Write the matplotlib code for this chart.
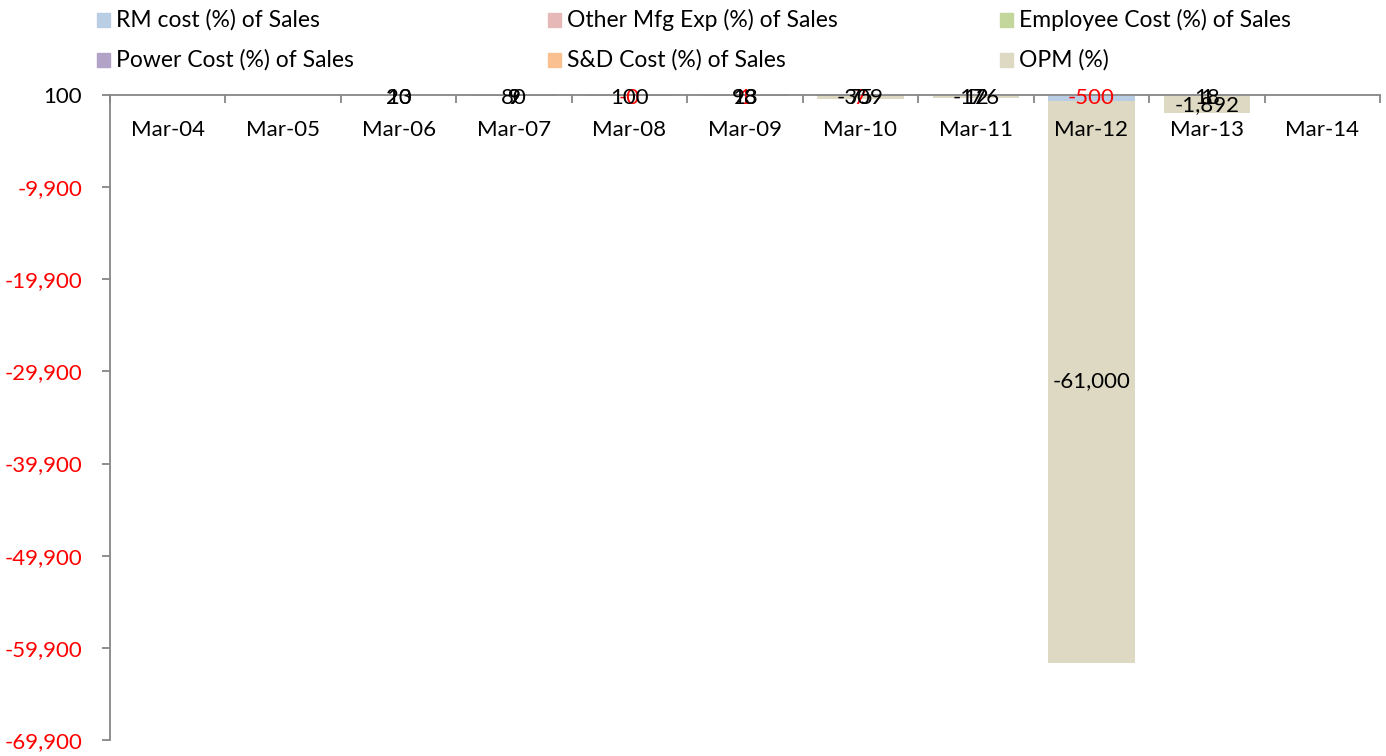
import numpy as np
import matplotlib
matplotlib.use("Agg")
import matplotlib.pyplot as plt
from matplotlib.patches import Rectangle
import matplotlib.transforms as mtransforms

nan = np.nan
categories = ["Mar-04", "Mar-05", "Mar-06", "Mar-07", "Mar-08", "Mar-09",
              "Mar-10", "Mar-11", "Mar-12", "Mar-13", "Mar-14"]
series_names = ["RM cost (%) of Sales", "Other Mfg Exp (%) of Sales",
                "Employee Cost (%) of Sales", "Power Cost (%) of Sales",
                "S&D Cost (%) of Sales", "OPM (%)"]
rm_cost = [nan, nan, nan, nan, -0.3, 1, 7, nan, -500, nan, nan]
other_mfg = [nan, nan, 20, 80, 100, 98, 75, 12, nan, 18, nan]
employee = [nan, nan, 13, 9, nan, 13, nan, 7, nan, 1, nan]
power = [nan, nan, nan, 9, nan, nan, nan, nan, nan, nan, nan]
sd_cost = [nan] * 11
opm = [nan, nan, nan, nan, nan, nan, -309, -176, -61000, -1892, nan]
series_values = [rm_cost, other_mfg, employee, power, sd_cost, opm]
colors = ["#B9CDE5", "#E6B9B8", "#C3D69B", "#B3A2C7", "#FAC090", "#DDD9C3"]
label_colors = ["#FF0000", "black", "black", "black", "black", "black"]
yticks = [100, -9900, -19900, -29900, -39900, -49900, -59900, -69900]

FONT = "Lato"
FS = 16
plt.rcParams["font.family"] = [FONT, "DejaVu Sans"]

W, H = 1386, 756
fig = plt.figure(figsize=(W / 100, H / 100), dpi=100)
ax = fig.add_axes([110 / W, 1 - 740 / H, (1380 - 110) / W, (740 - 95) / H])
ymin, ymax = -69900, 100
ax.set_xlim(-0.5, len(categories) - 0.5)
ax.set_ylim(ymin, ymax)

x = np.arange(len(categories))
pos_base = np.zeros(len(categories))
neg_base = np.zeros(len(categories))
width = 0.75
grey = "#868686"
units_per_px = (ymax - ymin) / 645.0
for vals, col, lcol in zip(series_values, colors, label_colors):
    v = np.array(vals, dtype=float)
    for i in range(len(x)):
        if np.isnan(v[i]):
            continue
        if v[i] >= 0:
            b = pos_base[i]
            pos_base[i] += v[i]
        else:
            b = neg_base[i]
            neg_base[i] += v[i]
        ax.bar(x[i], v[i], bottom=b, width=width, color=col, linewidth=0, zorder=2)
        yc = b + v[i] / 2
        yc = min(max(yc, ymin), ymax - 3 * units_per_px)
        txt = f"{v[i]:,.0f}"
        ax.text(x[i], yc, txt, ha="center", va="center", fontsize=FS,
                color=lcol, zorder=5, clip_on=False)

# axes styling
for s in ["bottom", "right"]:
    ax.spines[s].set_visible(False)
for s in ["top", "left"]:
    ax.spines[s].set_color(grey)
    ax.spines[s].set_linewidth(1.3)
    ax.spines[s].set_zorder(3)

ax.set_yticks(yticks)
ax.set_yticklabels([f"{t:,}" for t in yticks], fontsize=FS)
for lab, t in zip(ax.get_yticklabels(), yticks):
    lab.set_color("black" if t >= 0 else "#FF0000")
ax.tick_params(axis="y", direction="out", length=6, width=1.3, color=grey, pad=14)

ax.xaxis.tick_top()
ax.set_xticks(np.arange(len(categories) + 1) - 0.5)
ax.set_xticklabels([])
ax.tick_params(axis="x", direction="in", length=6, width=1.3, color=grey, top=True, bottom=False)

trans = mtransforms.blended_transform_factory(ax.transData, ax.transAxes)
for i, c in enumerate(categories):
    ax.text(i, 1 - 35 / 645, c, transform=trans, ha="center", va="center", fontsize=FS)

# legend
legend_x = [97, 548, 1000]
legend_y = [20, 60]
for i, (name, col) in enumerate(zip(series_names, colors)):
    cx = legend_x[i % 3]
    cy = legend_y[i // 3]
    sq = 13
    fig.patches.append(Rectangle((cx / W, 1 - (cy + sq / 2) / H), sq / W, sq / H,
                                 transform=fig.transFigure, color=col))
    fig.text((cx + sq + 6) / W, 1 - cy / H, name, ha="left", va="center", fontsize=16.5)

fig.savefig("out.png", dpi=100)
